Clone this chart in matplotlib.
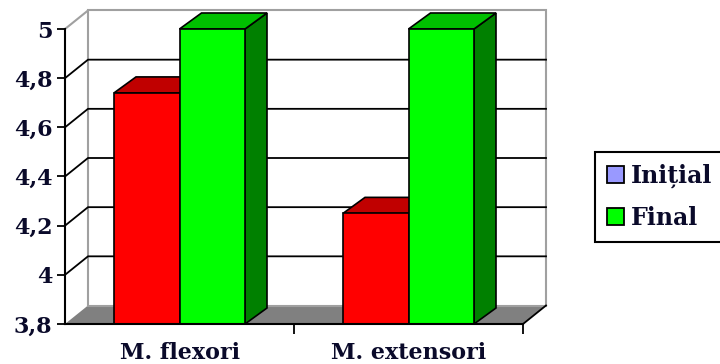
import matplotlib
matplotlib.use('Agg')
import matplotlib.pyplot as plt
from matplotlib.patches import Polygon, Patch

categories = ['M. flexori', 'M. extensori']
initial = [4.74, 4.25]
final = [5.0, 5.0]
series_labels = ['Inițial', 'Final']
yticks = [3.8, 4.0, 4.2, 4.4, 4.6, 4.8, 5.0]
ytick_labels = ['3,8', '4', '4,2', '4,4', '4,6', '4,8', '5']

txt_color = '#0a0a2a'
font = dict(family='DejaVu Serif', weight='bold')

fig = plt.figure(figsize=(7.2, 3.64), dpi=100)
ax = fig.add_axes([65 / 720, 40 / 364, 458 / 720, 295 / 364])
ymin, ymax = 3.8, 5.0
ax.set_xlim(-0.5, 1.5)
ax.set_ylim(ymin, ymax)
ax.patch.set_visible(False)

# depth of the fake 3-D effect, pixels -> data units
xpx = 458 / 2.0
ypx = 295 / (ymax - ymin)
wall_dx, wall_dy = 23 / xpx, 18.5 / ypx
bar_dx, bar_dy = 22 / xpx, 16 / ypx

x0, x1 = ax.get_xlim()

# floor
ax.add_patch(Polygon([(x0, ymin), (x1, ymin), (x1 + wall_dx, ymin + wall_dy),
                      (x0 + wall_dx, ymin + wall_dy)],
                     fc='#808080', ec='none', clip_on=False, zorder=1))
# back wall
ax.add_patch(Polygon([(x0 + wall_dx, ymin + wall_dy), (x1 + wall_dx, ymin + wall_dy),
                      (x1 + wall_dx, ymax + wall_dy), (x0 + wall_dx, ymax + wall_dy)],
                     fc='white', ec='#a0a0a0', lw=1.5, clip_on=False, zorder=1))
ax.plot([x0, x0 + wall_dx], [ymax, ymax + wall_dy], color='#a0a0a0', lw=1.5,
        clip_on=False, zorder=1.5)
ax.plot([x1, x1 + wall_dx], [ymin, ymin + wall_dy], color='black', lw=1.3,
        clip_on=False, zorder=1.5)

# gridlines on back wall and side wall
for y in yticks[1:-1]:
    ax.plot([x0, x0 + wall_dx, x1 + wall_dx], [y, y + wall_dy, y + wall_dy],
            color='black', lw=1.3, clip_on=False, zorder=1.5)


def bar3d(xc, h, width, front, top, side):
    a, b = xc - width / 2, xc + width / 2
    ax.add_patch(Polygon([(b, ymin), (b + bar_dx, ymin + bar_dy),
                          (b + bar_dx, h + bar_dy), (b, h)],
                         fc=side, ec='black', lw=1.2, clip_on=False, zorder=3))
    ax.add_patch(Polygon([(a, h), (b, h), (b + bar_dx, h + bar_dy),
                          (a + bar_dx, h + bar_dy)],
                         fc=top, ec='black', lw=1.2, clip_on=False, zorder=3))
    ax.bar(xc, h - ymin, width, bottom=ymin, color=front, edgecolor='black',
           lw=1.2, clip_on=False, zorder=3)


w = 0.286
for i in range(len(categories)):
    bar3d(i - w / 2, initial[i], w, '#ff0000', '#c00000', '#800000')
    bar3d(i + w / 2, final[i], w, '#00ff00', '#00c000', '#008000')

# axes
for s in ['top', 'right']:
    ax.spines[s].set_visible(False)
for s in ['left', 'bottom']:
    ax.spines[s].set_linewidth(1.5)
    ax.spines[s].set_zorder(4)
ax.set_yticks(yticks)
ax.set_yticklabels(ytick_labels, fontsize=16, color=txt_color, **font)
ax.tick_params(axis='y', direction='out', length=6, width=1.3, pad=3)
ax.set_xticks(range(len(categories)))
ax.set_xticklabels(categories, fontsize=16, color=txt_color, **font)
ax.set_xticks([0.5, 1.5], minor=True)
ax.tick_params(axis='x', which='major', length=0, pad=13)
ax.tick_params(axis='x', which='minor', direction='out', length=7, width=1.3)

handles = [Patch(facecolor='#9999ff', edgecolor='black', lw=1.3),
           Patch(facecolor='#00ff00', edgecolor='black', lw=1.3)]
leg = fig.legend(handles, series_labels, loc='upper left',
                 bbox_to_anchor=(595 / 720, 1 - 152 / 364),
                 prop=dict(size=17, **font), fancybox=False, framealpha=1,
                 edgecolor='black', handlelength=0.72, handleheight=0.72,
                 handletextpad=0.3, labelspacing=0.75, borderpad=0.5,
                 borderaxespad=0)
leg.get_frame().set_linewidth(1.5)
for t in leg.get_texts():
    t.set_color(txt_color)

fig.savefig('out.png', dpi=100, facecolor='white')
